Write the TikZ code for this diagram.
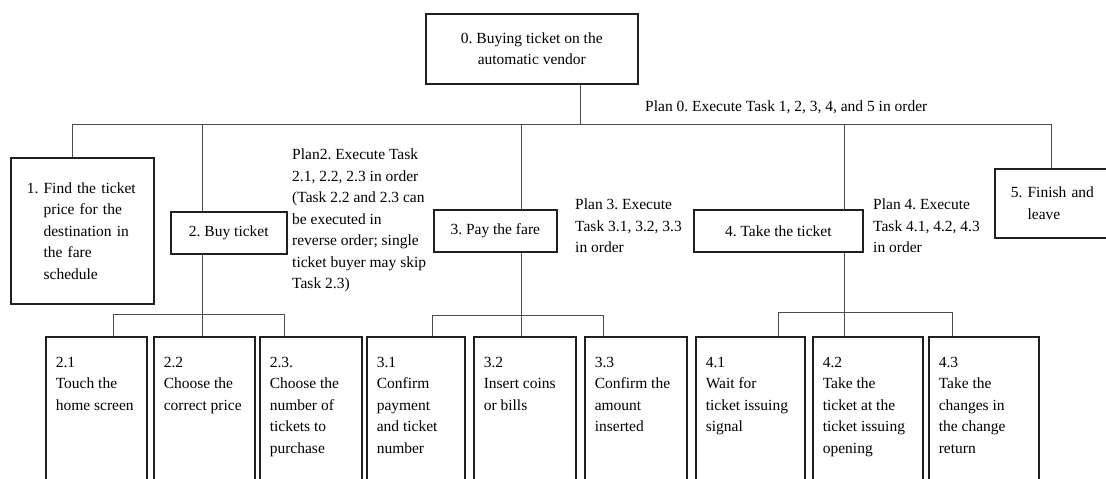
\documentclass[tikz,border=0pt]{standalone}
\usepackage{fontspec}
\setmainfont{Liberation Serif}
\frenchspacing
\newcommand\cellt[2]{\parbox[c][160pt][t]{#1}{\raggedright\vspace*{20pt}#2}}
\begin{document}
\begin{tikzpicture}[x=1pt,y=-1pt,
  font=\fontsize{15.5pt}{21.5pt}\selectfont,
  box/.style={draw=black!88, line width=1.6pt, inner sep=0pt},
  cell/.style={box, anchor=north west, inner xsep=10pt, inner ysep=0pt},
  plan/.style={anchor=north west, inner sep=0pt, align=left},
  conn/.style={draw=black!70, line width=0.9pt}]
\useasboundingbox (0,0) rectangle (1106,479);
\clip (0,0) rectangle (1106,479);
\fill[white] (0,0) rectangle (1106,479);
% top
\node[box, anchor=north west, minimum width=212pt, minimum height=70pt, align=center] (n0) at (425,13) {0. Buying ticket on the\\automatic vendor};
\node[anchor=west, inner sep=0pt] (p0) at (645,107) {Plan 0. Execute Task 1, 2, 3, 4, and 5 in order};
% level 1
\node[box, anchor=north west, inner xsep=16pt, text width=111pt, minimum height=146pt, align=left] (n1) at (10,157)
  {1. Find the ticket\\\phantom{1. }price for the\\\phantom{1. }destination in\\\phantom{1. }the fare\\\phantom{1. }schedule};
\node[box, anchor=north west, minimum width=116pt, minimum height=42pt] (n2) at (170,211) {2. Buy ticket};
\node[box, anchor=north west, minimum width=123pt, minimum height=42pt] (n3) at (433,209) {3. Pay the fare};
\node[box, anchor=north west, minimum width=169pt, minimum height=42pt] (n4) at (693,209) {4. Take the ticket};
\node[box, anchor=north west, inner xsep=16pt, text width=110pt, minimum height=69pt, align=left] (n5) at (994,168)
  {5. Finish and\\\phantom{5. }leave};
% plans
\node[plan] (p2) at (292,149) {Plan2. Execute Task\\2.1, 2.2, 2.3 in order\\(Task 2.2 and 2.3 can\\be executed in\\reverse order; single\\ticket buyer may skip\\Task 2.3)};
\node[plan] (p3) at (575,199) {Plan 3. Execute\\Task 3.1, 3.2, 3.3\\in order};
\node[plan] (p4) at (873,199) {Plan 4. Execute\\Task 4.1, 4.2, 4.3\\in order};
% level 2
\node[cell] (b21) at (45,336)  {\cellt{81pt}{2.1\\Touch the\\home screen}};
\node[cell] (b22) at (153,336) {\cellt{81pt}{2.2\\Choose the\\correct price}};
\node[cell] (b23) at (259,336) {\cellt{82pt}{2.3.\\Choose the\\number of\\tickets to\\purchase}};
\node[cell] (b31) at (366,336) {\cellt{78pt}{3.1\\Confirm\\payment\\and ticket\\number}};
\node[cell] (b32) at (473,336) {\cellt{82pt}{3.2\\Insert coins\\or bills}};
\node[cell] (b33) at (584,336) {\cellt{82pt}{3.3\\Confirm the\\amount\\inserted}};
\node[cell] (b41) at (695,336) {\cellt{89pt}{4.1\\Wait for\\ticket issuing\\signal}};
\node[cell] (b42) at (812,336) {\cellt{90pt}{4.2\\Take the\\ticket at the\\ticket issuing\\opening}};
\node[cell] (b43) at (928,336) {\cellt{90pt}{4.3\\Take the\\changes in\\the change\\return}};
% connectors level 0-1
\coordinate (t0) at (580,124);
\coordinate (hL) at (72,124);
\coordinate (hR) at (1051,124);
\coordinate (x2) at (202,124);
\coordinate (x3) at (521,124);
\coordinate (x4) at (844,124);
\draw[conn] (n0.south -| t0) -- (t0);
\draw[conn] (n1.north -| hL) -- (hL) -- (hR) -- (n5.north -| hR);
\draw[conn] (x2) -- (n2.north -| x2);
\draw[conn] (x3) -- (n3.north -| x3);
\draw[conn] (x4) -- (n4.north -| x4);
% group 2
\coordinate (g2L) at (113,314);
\coordinate (g2C) at (202,314);
\coordinate (g2R) at (284,314);
\draw[conn] (n2.south -| g2C) -- (b22.north -| g2C);
\draw[conn] (b21.north -| g2L) -- (g2L) -- (g2R) -- (b23.north -| g2R);
% group 3
\coordinate (g3L) at (432,315);
\coordinate (g3C) at (521,315);
\coordinate (g3R) at (603,315);
\draw[conn] (n3.south -| g3C) -- (b32.north -| g3C);
\draw[conn] (b31.north -| g3L) -- (g3L) -- (g3R) -- (b33.north -| g3R);
% group 4
\coordinate (g4L) at (778,312);
\coordinate (g4C) at (844,312);
\coordinate (g4R) at (952,312);
\draw[conn] (n4.south -| g4C) -- (b42.north -| g4C);
\draw[conn] (b41.north -| g4L) -- (g4L) -- (g4R) -- (b43.north -| g4R);
\end{tikzpicture}
\end{document}
